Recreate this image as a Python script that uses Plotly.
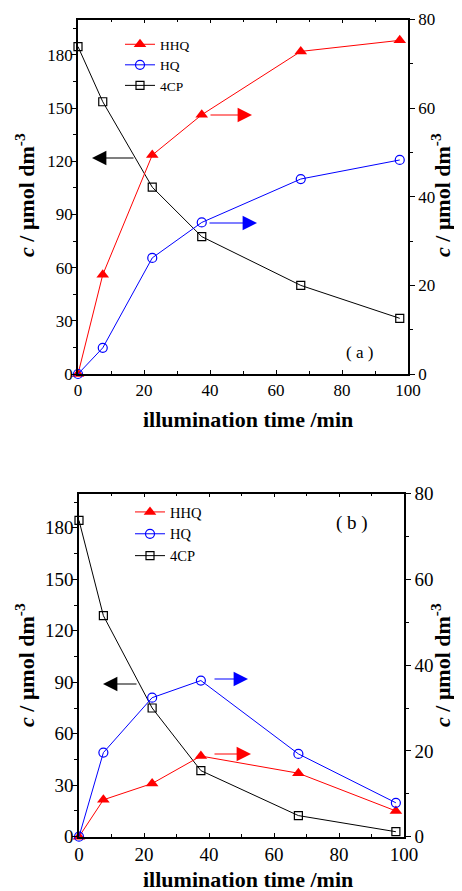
import plotly.graph_objects as go

# page is 462x891; the html body has an 8px margin, so the figure is sized
# to fill the rest of the window and positions are given in window pixels
PAGE_W, PAGE_H = 462, 891
OFF = 8
W, H = PAGE_W - OFF, PAGE_H - OFF

# ---- data ----
time_min = [0, 7.5, 22.5, 37.5, 67.5, 97.5]

a_4cp = [184.7, 153.6, 105.4, 77.5, 50.0, 31.4]   # left axis
a_hhq = [0, 22.4, 49.4, 58.5, 72.8, 75.3]          # right axis
a_hq = [0, 5.9, 26.2, 34.2, 44.0, 48.3]            # right axis

b_4cp = [184.3, 128.8, 75.0, 38.5, 12.3, 2.9]      # left axis
b_hhq = [0, 8.6, 12.4, 18.8, 14.8, 6.0]            # right axis
b_hq = [0, 19.6, 32.4, 36.4, 19.3, 7.9]            # right axis

series_names = ["HHQ", "HQ", "4CP"]
x_ticks = [0, 20, 40, 60, 80, 100]
left_ticks = [0, 30, 60, 90, 120, 150, 180]
right_ticks = [0, 20, 40, 60, 80]

FONT = "Times New Roman, Liberation Serif, serif"


def px(x):
    return (x - OFF) / W


def py(y):
    return 1 - (y - OFF) / H


fig = go.Figure()

red = "#ff0000"
blue = "#0000ff"
black = "#000000"


def add_panel(hhq, hq, cp, xa, yl, yr, leg):
    fig.add_trace(go.Scatter(x=time_min, y=hhq, name=series_names[0], xaxis=xa, yaxis=yr,
                             mode="lines+markers", line=dict(color=red, width=1),
                             marker=dict(symbol="triangle-up", size=11, color=red),
                             cliponaxis=False, legend=leg))
    fig.add_trace(go.Scatter(x=time_min, y=hq, name=series_names[1], xaxis=xa, yaxis=yr,
                             mode="lines+markers", line=dict(color=blue, width=1),
                             marker=dict(symbol="circle-open", size=9, color=blue, line=dict(width=1.2)),
                             cliponaxis=False, legend=leg))
    fig.add_trace(go.Scatter(x=time_min, y=cp, name=series_names[2], xaxis=xa, yaxis=yl,
                             mode="lines+markers", line=dict(color=black, width=1),
                             marker=dict(symbol="square-open", size=8, color=black, line=dict(width=1.2)),
                             cliponaxis=False, legend=leg))


add_panel(a_hhq, a_hq, a_4cp, "x", "y", "y2", "legend")
add_panel(b_hhq, b_hq, b_4cp, "x2", "y3", "y4", "legend2")


def xaxis_cfg(domain, anchor, fs):
    return dict(domain=domain, anchor=anchor, range=[0, 100], tickvals=x_ticks,
                ticks="inside", ticklen=4, tickwidth=1.2, tickcolor="black",
                minor=dict(ticks="inside", dtick=10, tick0=0, ticklen=3, tickcolor="black", tickwidth=1.2),
                mirror="ticks", showline=True, linecolor="black", linewidth=1.6,
                showgrid=False, zeroline=False, automargin=False,
                tickfont=dict(family=FONT, size=fs, color="black"))


def yleft_cfg(domain, anchor, fs):
    return dict(domain=domain, anchor=anchor, range=[0, 200], tickvals=left_ticks,
                ticks="outside", ticklen=5, tickwidth=1.2, tickcolor="black",
                minor=dict(ticks="outside", dtick=15, tick0=0, ticklen=3, tickcolor="black", tickwidth=1.2),
                showline=True, linecolor="black", linewidth=1.6,
                showgrid=False, zeroline=False, automargin=False, ticklabelstandoff=-5,
                tickfont=dict(family=FONT, size=fs, color="black"))


def yright_cfg(overlay, anchor, fs):
    return dict(overlaying=overlay, anchor=anchor, side="right", range=[0, 80], tickvals=right_ticks,
                ticks="outside", ticklen=5, tickwidth=1.2, tickcolor="black",
                minor=dict(ticks="outside", dtick=10, tick0=0, ticklen=3, tickcolor="black", tickwidth=1.2),
                showline=True, linecolor="black", linewidth=1.6,
                showgrid=False, zeroline=False, automargin=False,
                tickfont=dict(family=FONT, size=fs, color="black"))


top_dom_x = [px(78), px(408)]
top_dom_y = [py(374), py(19.5)]
bot_dom_x = [px(79), px(404)]
bot_dom_y = [py(836.7), py(493.5)]

fig.update_layout(
    width=W, height=H,
    margin=dict(l=0, r=0, t=0, b=0, autoexpand=False),
    paper_bgcolor="white", plot_bgcolor="white",
    font=dict(family=FONT, color="black"),
    xaxis=xaxis_cfg(top_dom_x, "y", 17),
    yaxis=yleft_cfg(top_dom_y, "x", 17),
    yaxis2=yright_cfg("y", "x", 17),
    xaxis2=xaxis_cfg(bot_dom_x, "y3", 19),
    yaxis3=yleft_cfg(bot_dom_y, "x2", 19),
    yaxis4=yright_cfg("y3", "x2", 19),
    legend=dict(x=px(120), y=py(29), xanchor="left", yanchor="top",
                bgcolor="rgba(0,0,0,0)", font=dict(family=FONT, size=13.5, color="black"),
                tracegroupgap=0, itemwidth=30),
    legend2=dict(x=px(130), y=py(496), xanchor="left", yanchor="top",
                 bgcolor="rgba(0,0,0,0)", font=dict(family=FONT, size=14.5, color="black"),
                 tracegroupgap=0, itemwidth=30),
    showlegend=True,
)

ytitle = "<b><i>c</i> / μmol dm<sup>-3</sup></b>"
xtitle = "<b>illumination time /min</b>"

TF = dict(family=FONT, size=22, color="black")
annots = []
# axis titles
for (cx, cy) in [(25, 195), (25, 665), (441, 195), (441, 665)]:
    annots.append(dict(text=ytitle, x=px(cx), y=py(cy), xref="paper", yref="paper",
                       showarrow=False, textangle=-90, font=TF,
                       xanchor="center", yanchor="middle"))
for (cx, cy) in [(248, 419), (248, 879)]:
    annots.append(dict(text=xtitle, x=px(cx), y=py(cy), xref="paper", yref="paper",
                       showarrow=False, font=TF, xanchor="center", yanchor="middle"))
# panel labels
annots.append(dict(text="( a )", x=px(375), y=py(352), xref="paper", yref="paper", showarrow=False,
                   font=dict(family=FONT, size=17, color="black")))
annots.append(dict(text="( b )", x=px(370), y=py(523), xref="paper", yref="paper", showarrow=False,
                   font=dict(family=FONT, size=19, color="black")))

# arrows (tip position in window pixels, tail offset in pixels)
arrows = [
    (92, 158, 43, black), (252, 115, -43, red), (257, 223, -49, blue),
    (103, 684, 35, black), (248, 679, -35, blue), (251, 754, -38, red),
]
for (tx, ty, ax, col) in arrows:
    annots.append(dict(x=px(tx), y=py(ty), xref="paper", yref="paper", ax=ax, ay=0,
                       axref="pixel", ayref="pixel", text="", showarrow=True,
                       arrowhead=2, arrowsize=2.4, arrowwidth=1.2, arrowcolor=col))

fig.update_layout(annotations=annots)

fig.write_html("out.html")
